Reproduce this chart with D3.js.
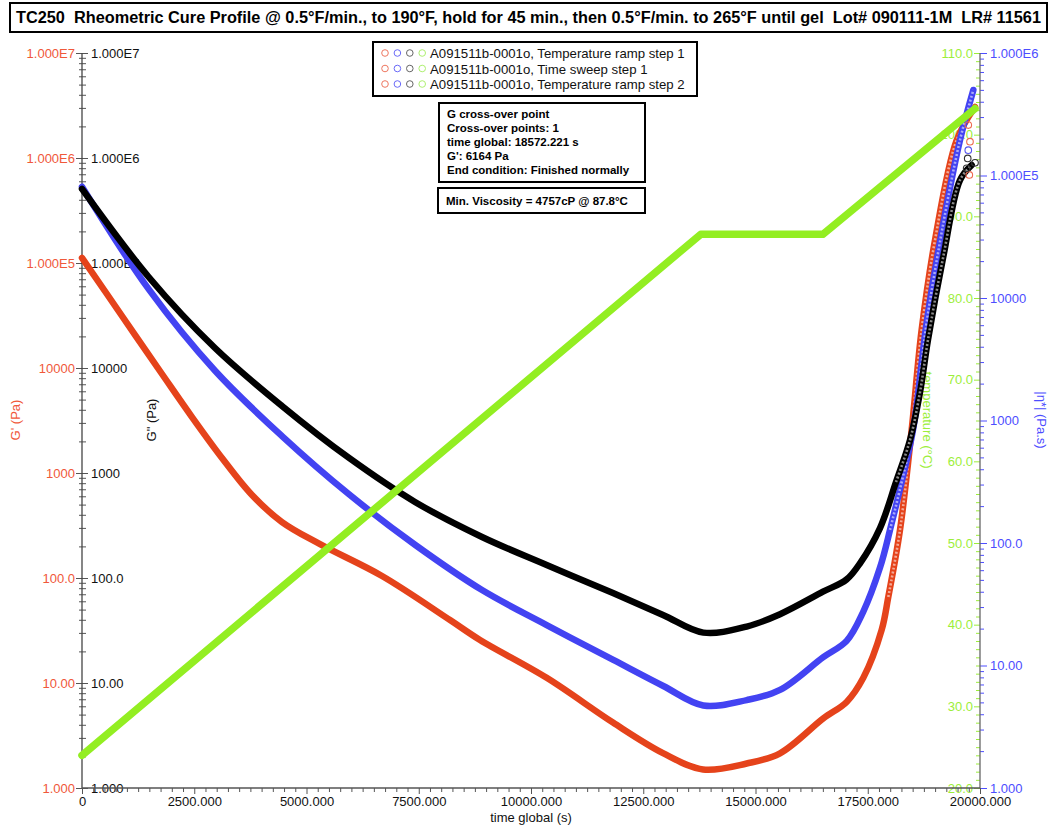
<!DOCTYPE html>
<html><head><meta charset="utf-8">
<script src="https://cdn.jsdelivr.net/npm/d3@7"></script>
<style>
body{margin:0;background:#fff;}
svg{display:block;font-family:"Liberation Sans",Arial,sans-serif;}
</style></head><body>
<svg id="c" width="1050" height="834"></svg>
<script>
// ---- data ----
const timeGp = [0,891,1782,2450,3118,3786,4454,5301,6682,8196,8864,10349,11826,12940,13831,14804,15546,16510,17030,17401,17810,17958,18218,18478,18700,18998,19481,19889];
const Gp = [1.12e5,3.13e4,8770,3410,1390,617,341,210,104.5,39.8,25.7,11.2,4.2,2.15,1.5,1.71,2.14,4.6,6.6,11.2,32,66,286,2570,23000,1.65e5,1.48e6,3.06e6];

const timeGpp = [0,1485,2962,4454,5947,7416,8909,10349,11826,12940,13838,14804,15546,16503,17030,17327,17773,18129,18441,18664,18842,19183,19555,19814];
const Gpp = [5.07e5,7.36e4,1.55e4,4350,1390,530,246,133,72,44.5,30.2,34.5,45.2,74,97,138,299,820,2060,5890,18600,1.15e5,6.17e5,8.57e5];

const timeEta = [0,1485,2969,4454,5940,7424,8909,10349,11833,12947,13838,14804,15546,16510,17030,17394,17773,17996,18508,18700,18812,19183,19555,19852];
const eta = [8.09e4,1.18e4,2535,746,251,96.3,41.3,21.4,11.1,6.8,4.72,5.22,6.32,11.7,15.9,27.2,63,128,836,2950,6310,4.07e4,1.95e5,4.99e5];

// scattered last points (step 2 end)
const tailTimeGp = [19739,19777,19762];
const tailGp = [2.06e6,1.43e6,6.9e5];
const tailTimeGpp = [19726,19703,19889];
const tailGpp = [9.9e5,7.98e5,9.0e5];
const tailTimeEta = [19739];
const tailEta = [1.61e5];

const timeTemp = [0,13780,16500,19889];
const temp = [24.0,87.8,87.8,103.2];

const gTicks = [1,10,100,1000,1e4,1e5,1e6,1e7];
const gTickLabels = ["1.000","10.00","100.0","1000","10000","1.000E5","1.000E6","1.000E7"];
const etaTicks = [1,10,100,1000,1e4,1e5,1e6];
const etaTickLabels = ["1.000","10.00","100.0","1000","10000","1.000E5","1.000E6"];
const tempTicks = [20,30,40,50,60,70,80,90,100,110];
const tempTickLabels = ["20.0","30.0","40.0","50.0","60.0","70.0","80.0","90.0","100.0","110.0"];
const xTicks = [0,2500,5000,7500,10000,12500,15000,17500,20000];
const xTickLabels = ["0","2500.000","5000.000","7500.000","10000.000","12500.000","15000.000","17500.000","20000.000"];

const legendItems = ["A091511b-0001o, Temperature ramp step 1","A091511b-0001o, Time sweep step 1","A091511b-0001o, Temperature ramp step 2"];
const crossLines = ["G cross-over point","Cross-over points: 1","time global: 18572.221 s","G': 6164 Pa","End condition: Finished normally"];
const minVisc = "Min. Viscosity = 4757cP @ 87.8°C";
const title = "TC250  Rheometric Cure Profile @ 0.5°F/min., to 190°F, hold for 45 min., then 0.5°F/min. to 265°F until gel  Lot# 090111-1M  LR# 11561";

// ---- colours ----
const cRed="#e5431b", cRedTxt="#f0583a", cBlue="#4343f2", cBlueTxt="#4d4dff", cBlack="#000", cGreen="#93ee22", cGreenTxt="#9cee3a";

const svg = d3.select("#c");
const L=82,R=980,T=53,B=788;
const x = d3.scaleLinear([0,20000],[L,R]);
const yG = d3.scaleLog([1,1e7],[B,T]);
const yEta = d3.scaleLog([1,1e6],[B,T]);
const yT = d3.scaleLinear([20,110],[B,T]);

function logMinors(dom){const o=[];for(let e=Math.log10(dom[0]);e<Math.log10(dom[1]);e++){for(let k=2;k<=9;k++)o.push(k*Math.pow(10,e));}return o;}

function styleAxis(g,col,txtCol){
  g.select(".domain").remove();
  g.selectAll("line").attr("stroke",col);
  g.selectAll("text").attr("fill",txtCol).attr("font-size",13).attr("font-family","Liberation Sans, Arial, sans-serif");
}

// left minor ticks
svg.append("g").attr("transform",`translate(${L},0)`).call(d3.axisLeft(yG).tickValues(logMinors([1,1e7])).tickSize(3).tickFormat("")).call(g=>styleAxis(g,"#555","#000"));
svg.append("g").attr("transform",`translate(${L},0)`).call(d3.axisRight(yG).tickValues(logMinors([1,1e7])).tickSize(4).tickFormat("")).call(g=>styleAxis(g,"#555","#000"));
// left majors
svg.append("g").attr("transform",`translate(${L},0)`).call(d3.axisLeft(yG).tickValues(gTicks).tickSize(6).tickPadding(1).tickFormat((d,i)=>gTickLabels[i])).call(g=>styleAxis(g,"#555",cRedTxt));
svg.append("g").attr("transform",`translate(${L},0)`).call(d3.axisRight(yG).tickValues(gTicks).tickSize(6).tickPadding(3).tickFormat((d,i)=>gTickLabels[i])).call(g=>styleAxis(g,"#555","#111"));

// right: temperature (green, left side of axis)
const tMinor=d3.range(21,110,1).filter(v=>v%10!==0);
svg.append("g").attr("transform",`translate(${R},0)`).call(d3.axisLeft(yT).tickValues(tMinor).tickSize(4).tickFormat("")).call(g=>styleAxis(g,cGreenTxt,cGreenTxt));
svg.append("g").attr("transform",`translate(${R},0)`).call(d3.axisLeft(yT).tickValues(tempTicks).tickSize(6).tickPadding(1).tickFormat((d,i)=>tempTickLabels[i])).call(g=>styleAxis(g,cGreenTxt,cGreenTxt));
// right: viscosity (blue, right side)
svg.append("g").attr("transform",`translate(${R},0)`).call(d3.axisRight(yEta).tickValues(logMinors([1,1e6])).tickSize(4).tickFormat("")).call(g=>styleAxis(g,cBlueTxt,cBlueTxt));
svg.append("g").attr("transform",`translate(${R},0)`).call(d3.axisRight(yEta).tickValues(etaTicks).tickSize(7).tickPadding(3).tickFormat((d,i)=>etaTickLabels[i])).call(g=>styleAxis(g,cBlueTxt,cBlueTxt));

// bottom axis
svg.append("g").attr("transform",`translate(0,${B})`).call(d3.axisBottom(x).tickValues(d3.range(0,20001,250).filter(v=>v%2500!==0)).tickSize(4).tickFormat("")).call(g=>styleAxis(g,"#555","#000"));
svg.append("g").attr("transform",`translate(0,${B})`).call(d3.axisBottom(x).tickValues(xTicks).tickSize(6).tickPadding(3).tickFormat((d,i)=>xTickLabels[i])).call(g=>styleAxis(g,"#555","#111"));

// axis lines
svg.append("line").attr("x1",L).attr("x2",L).attr("y1",T).attr("y2",B).attr("stroke","#444").attr("stroke-width",1.3);
svg.append("line").attr("x1",R).attr("x2",R).attr("y1",T).attr("y2",B).attr("stroke","#666").attr("stroke-width",1.3);
svg.append("line").attr("x1",L).attr("x2",R).attr("y1",B).attr("y2",B).attr("stroke","#555").attr("stroke-width",1.3);

// axis titles
svg.append("text").attr("transform","translate(15,420) rotate(-90)").attr("text-anchor","middle").attr("dominant-baseline","central").attr("font-size",13).attr("fill",cRedTxt).text("G' (Pa)");
svg.append("text").attr("transform","translate(151,420) rotate(-90)").attr("text-anchor","middle").attr("dominant-baseline","central").attr("font-size",13).attr("fill","#111").text('G" (Pa)');
svg.append("text").attr("transform","translate(927,420) rotate(90)").attr("text-anchor","middle").attr("dominant-baseline","central").attr("font-size",13).attr("fill",cGreenTxt).text("temperature (°C)");
svg.append("text").attr("transform","translate(1041,420) rotate(90)").attr("text-anchor","middle").attr("dominant-baseline","central").attr("font-size",13).attr("fill",cBlueTxt).text("|η*| (Pa.s)");
svg.append("text").attr("x",531).attr("y",822).attr("text-anchor","middle").attr("font-size",13).attr("fill","#111").text("time global (s)");

// series
function drawSeries(ts,vs,ys,col,w,curve,steepFrom){
  const data=ts.map((t,i)=>[t,vs[i]]);
  const line=d3.line().x(d=>x(d[0])).y(d=>ys(d[1])).curve(curve);
  svg.append("path").datum(data).attr("fill","none").attr("stroke",col).attr("stroke-width",w)
    .attr("stroke-linecap","round").attr("stroke-linejoin","round").attr("d",line);
  if(steepFrom!=null){
    // open-circle look of the sparse end section
    const part=data.filter(d=>d[0]>=steepFrom);
    svg.append("path").datum(part).attr("fill","none").attr("stroke","#fff").attr("stroke-opacity",0.55)
      .attr("stroke-width",2.6).attr("stroke-dasharray","2 2").attr("d",line);
  }
}
function drawTail(ts,vs,ys,col){
  svg.append("g").selectAll("circle").data(ts.map((t,i)=>[t,vs[i]])).join("circle")
    .attr("cx",d=>x(d[0])).attr("cy",d=>ys(d[1])).attr("r",3.3)
    .attr("fill","none").attr("stroke",col).attr("stroke-width",1.1);
}
const cr=d3.curveCatmullRom.alpha(0.5);
drawSeries(timeGp,Gp,yG,cRed,6.5,cr,17958);
drawSeries(timeEta,eta,yEta,cBlue,6.5,cr,17996);
drawSeries(timeGpp,Gpp,yG,cBlack,6.5,cr,18129);
drawTail(tailTimeGp,tailGp,yG,"#ee6a50");
drawTail(tailTimeEta,tailEta,yEta,"#5555ee");
drawTail(tailTimeGpp,tailGpp,yG,"#333");
drawSeries(timeTemp,temp,yT,cGreen,7.5,d3.curveLinear,null);

// title
svg.append("rect").attr("x",10).attr("y",3).attr("width",1037).attr("height",29).attr("fill","#fff").attr("stroke","#000").attr("stroke-width",2);
svg.append("text").attr("x",16).attr("y",23).attr("font-size",16).attr("font-weight","bold").style("white-space","pre")
  .attr("font-family","Liberation Sans Narrow, Liberation Sans, Arial, sans-serif")
  .attr("textLength",1025).attr("lengthAdjust","spacingAndGlyphs").text(title);

// legend
svg.append("rect").attr("x",373).attr("y",42).attr("width",324).attr("height",54).attr("fill","#fff").attr("stroke","#000").attr("stroke-width",2);
const legCols=["#ee7760","#6a6af8","#666","#aef070"];
legendItems.forEach((s,i)=>{
  const yy=53+i*15.5;
  legCols.forEach((c,j)=>svg.append("circle").attr("cx",385+j*12.4).attr("cy",yy).attr("r",3.3).attr("fill","none").attr("stroke",c).attr("stroke-width",1));
  svg.append("text").attr("x",430).attr("y",yy+5).attr("font-size",13.2).attr("fill","#111").text(s);
});

// cross-over box
svg.append("rect").attr("x",439).attr("y",103).attr("width",206).attr("height",79).attr("fill","#fff").attr("stroke","#000").attr("stroke-width",2);
crossLines.forEach((s,i)=>svg.append("text").attr("x",447).attr("y",118+i*14).attr("font-size",11.5).attr("font-weight","bold").attr("fill","#000").text(s));
svg.append("rect").attr("x",438).attr("y",188).attr("width",207).attr("height",25).attr("fill","#fff").attr("stroke","#000").attr("stroke-width",2);
svg.append("text").attr("x",446).attr("y",205).attr("font-size",11.5).attr("font-weight","bold").attr("fill","#000").text(minVisc);
</script></body></html>
